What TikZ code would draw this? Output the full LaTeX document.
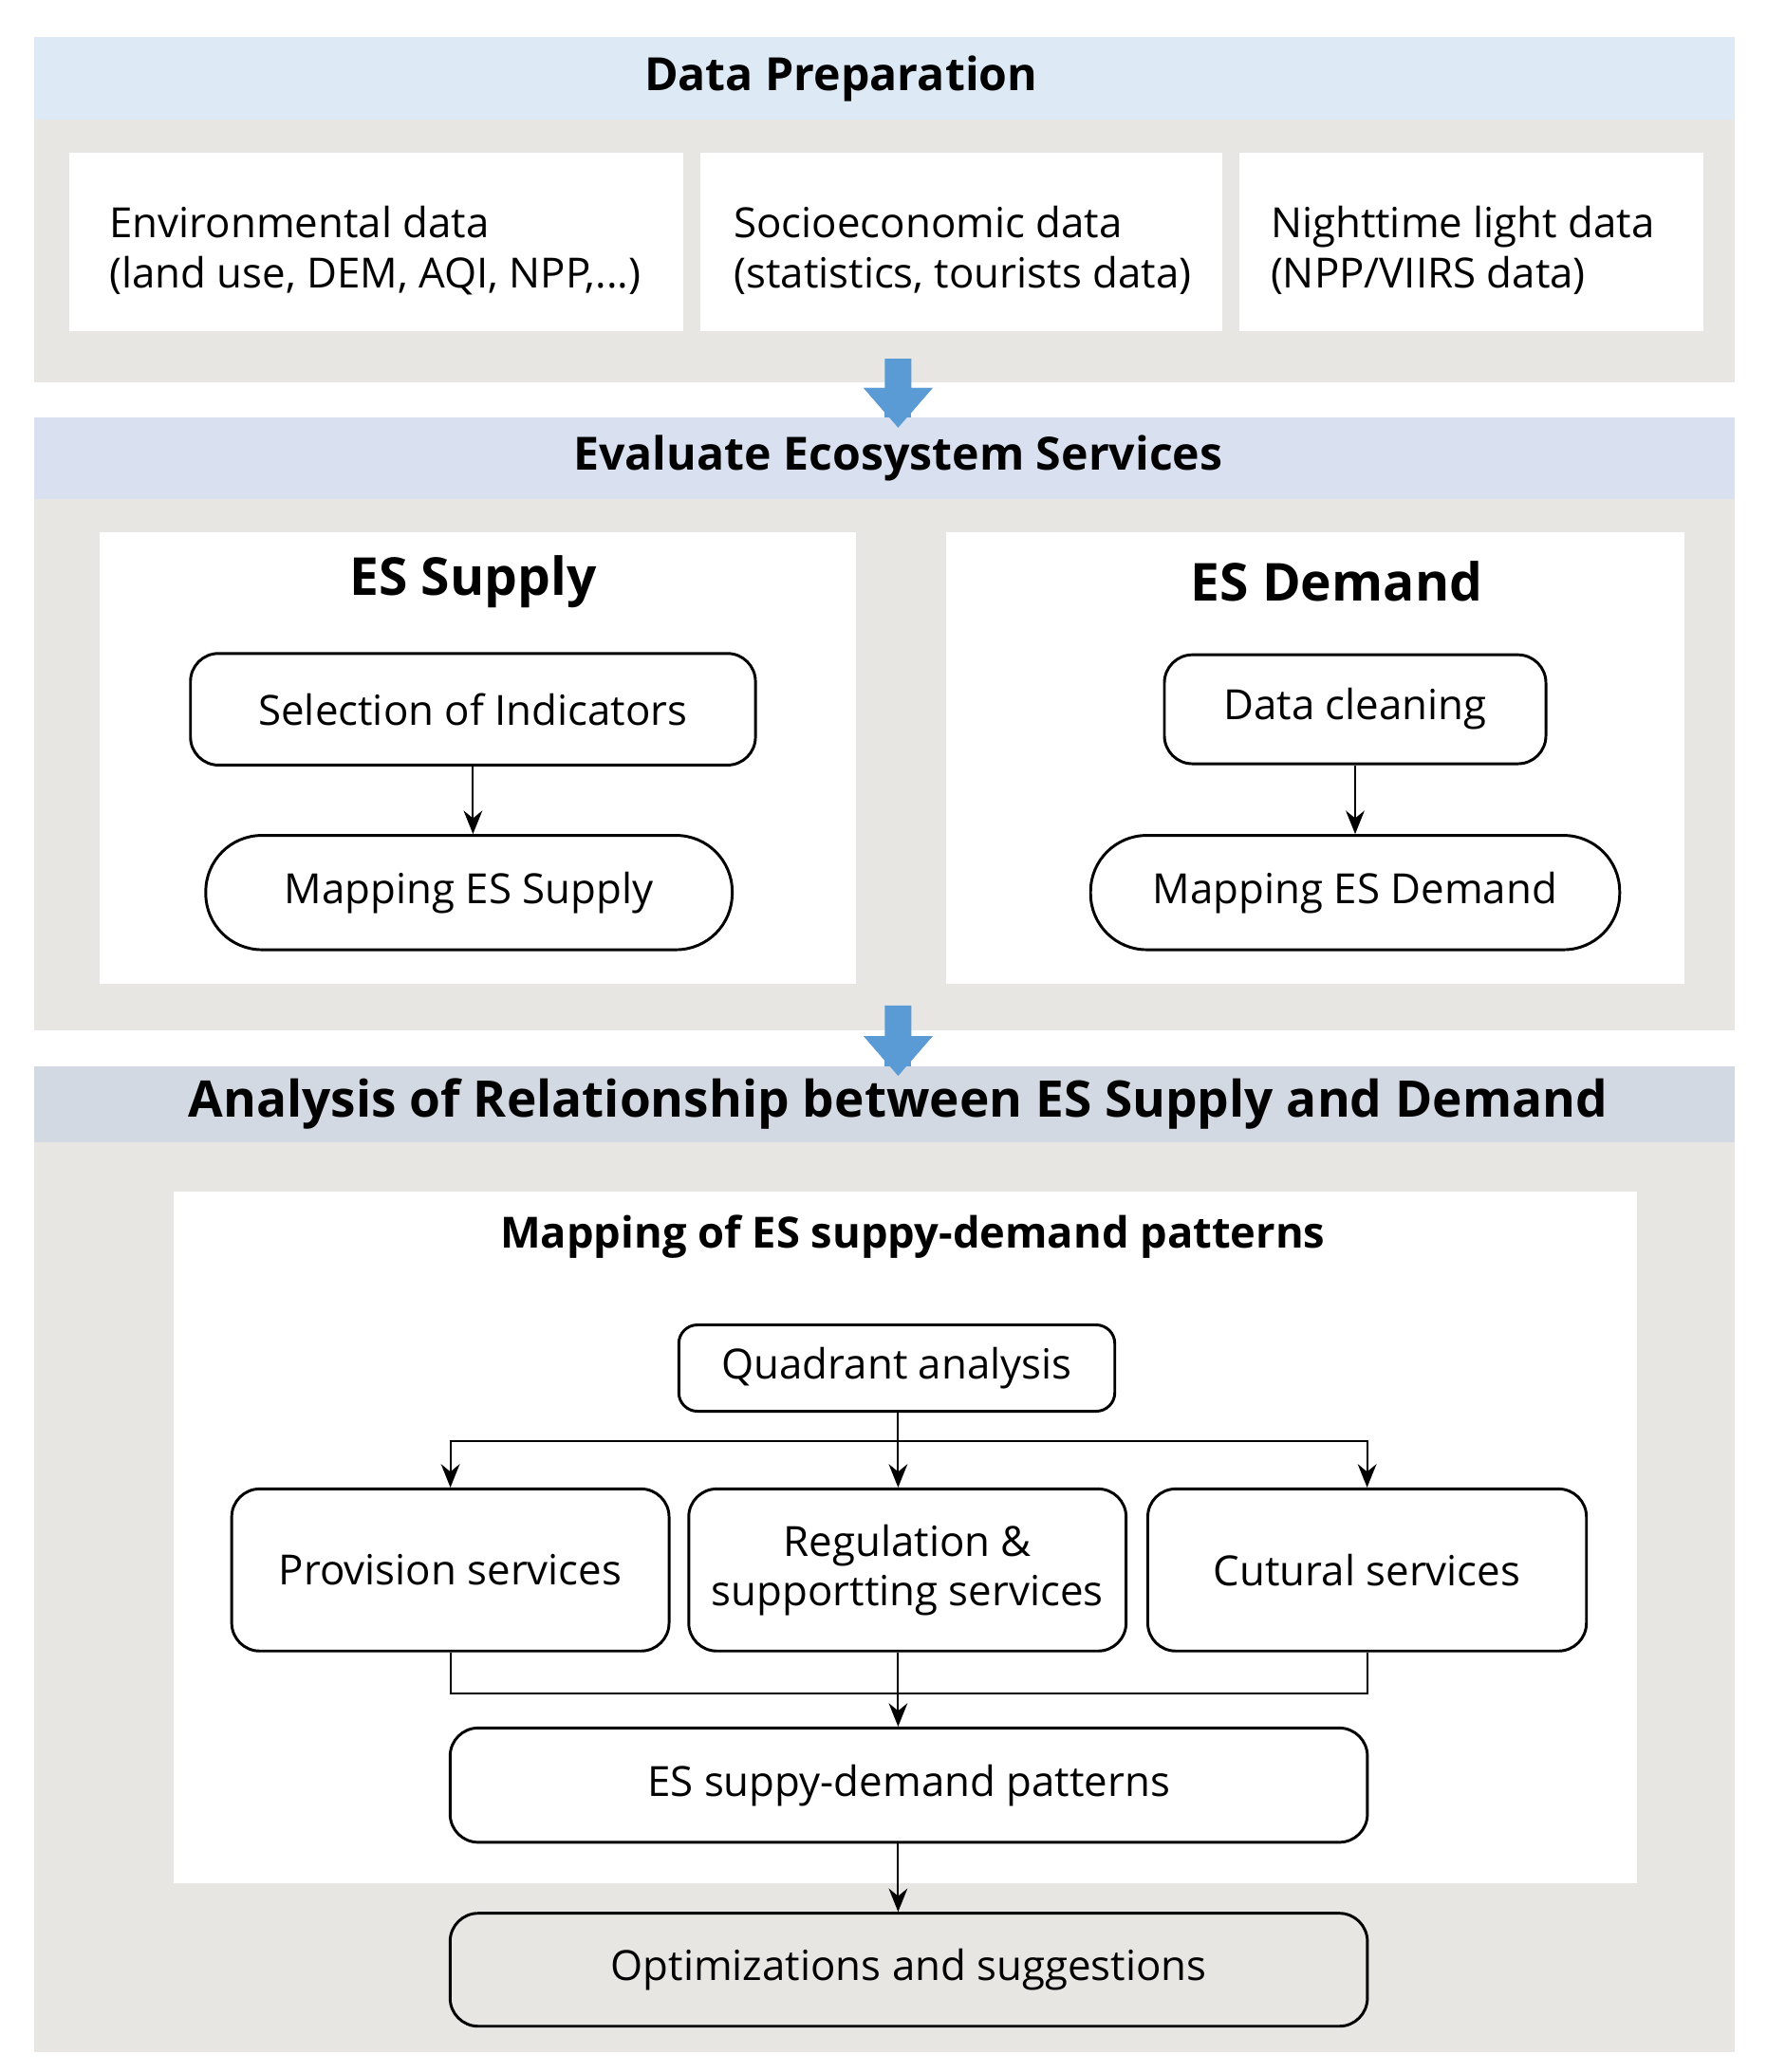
\documentclass[tikz,border=0pt]{standalone}
\usepackage{fontspec}
\setmainfont{Open Sans}
\usetikzlibrary{arrows.meta,positioning}
\definecolor{bandgrey}{HTML}{E8E6E3}
\definecolor{headA}{HTML}{DDEAF6}
\definecolor{headB}{HTML}{D9E0F0}
\definecolor{headC}{HTML}{D3D9E2}
\definecolor{arrowblue}{HTML}{5B9BD5}
\begin{document}
\begin{tikzpicture}[x=0.01cm,y=-0.01cm,>={Stealth[length=5pt,width=4pt]},
    head/.style={font=\bfseries\fontsize{9.8}{12}\selectfont},
    panel/.style={fill=white,draw=none},
    procbox/.style={draw,rounded corners=6pt,semithick,font=\fontsize{8.9}{10.6}\selectfont,inner sep=0pt},
    datatext/.style={font=\fontsize{8.9}{10.6}\selectfont,align=left,anchor=north west},
    bigarrow/.style={fill=arrowblue,draw=none}]
    \useasboundingbox (0,0) rectangle (1330,1560);
    \fill[white] (0,0) rectangle (1330,1560);

    % data preparation
    \fill[headA] (26,28) rectangle (1306,90);
    \fill[bandgrey] (26,90) rectangle (1306,288);
    \node[head] (dp) at (633,59) {Data Preparation};
    \fill[panel] (52,115) rectangle (514,249);
    \fill[panel] (527,115) rectangle (920,249);
    \fill[panel] (933,115) rectangle (1282,249);
    \node[datatext] (env) at (70,143) {Environmental data\\(land use, DEM, AQI, NPP,...)};
    \node[datatext] (soc) at (540,143) {Socioeconomic data\\(statistics, tourists data)};
    \node[datatext] (ntl) at (944,143) {Nighttime light data\\(NPP/VIIRS data)};
    \fill[bigarrow] (666,270) -- (686,270) -- (686,292) -- (702,292) -- (676,322) -- (650,292) -- (666,292) -- cycle;

    % evaluate ecosystem services
    \fill[headB] (26,314) rectangle (1306,376);
    \fill[bandgrey] (26,376) rectangle (1306,776);
    \fill[bigarrow] (666,292) -- (686,292) -- (686,314) -- (666,314) -- cycle;
    \fill[bigarrow] (650,292) -- (702,292) -- (676,322) -- cycle;
    \node[head] (ees) at (676,345) {Evaluate Ecosystem Services};
    \fill[panel] (75,401) rectangle (644,741);
    \fill[panel] (712,401) rectangle (1268,741);
    \node[head,font=\bfseries\fontsize{11.2}{13}\selectfont] (sup) at (356,438) {ES Supply};
    \node[head,font=\bfseries\fontsize{11.2}{13}\selectfont] (dem) at (1006,438) {ES Demand};
    \node[procbox,minimum width=4.25cm,minimum height=0.84cm] (sel) at (356,534) {Selection of Indicators};
    \node[procbox,minimum width=3.96cm,minimum height=0.86cm,rounded corners=12pt] (msup) at (353,672) {Mapping ES Supply};
    \node[procbox,minimum width=2.87cm,minimum height=0.82cm] (clean) at (1020,534) {Data cleaning};
    \node[procbox,minimum width=3.98cm,minimum height=0.86cm,rounded corners=12pt] (mdem) at (1020,672) {Mapping ES Demand};
    \draw[->] (sel) -- (sel |- msup.north);
    \draw[->] (clean) -- (clean |- mdem.north);
    \fill[bigarrow] (666,757) -- (686,757) -- (686,780) -- (702,780) -- (676,810) -- (650,780) -- (666,780) -- cycle;

    % analysis of relationship
    \fill[headC] (26,803) rectangle (1306,860);
    \fill[bandgrey] (26,860) rectangle (1306,1545);
    \fill[bigarrow] (666,780) -- (686,780) -- (686,803) -- (666,803) -- cycle;
    \fill[bigarrow] (650,780) -- (702,780) -- (676,810) -- cycle;
    \node[head,font=\bfseries\fontsize{10.8}{13}\selectfont] (ars) at (676,831) {Analysis of Relationship between ES Supply and Demand};
    \fill[panel] (131,897) rectangle (1232,1418);
    \node[head,font=\bfseries\fontsize{9.2}{11}\selectfont] (mp) at (687,931) {Mapping of ES suppy-demand patterns};
    \node[procbox,minimum width=3.28cm,minimum height=0.65cm,rounded corners=4pt] (quad) at (675,1030) {Quadrant analysis};
    \node[procbox,minimum width=3.29cm,minimum height=1.22cm] (prov) at (339,1182) {Provision services};
    \node[procbox,minimum width=3.29cm,minimum height=1.22cm,align=center] (reg) at (683,1182) {Regulation \&\\supportting services};
    \node[procbox,minimum width=3.30cm,minimum height=1.22cm] (cult) at (1029,1182) {Cutural services};
    \node[procbox,minimum width=6.90cm,minimum height=0.86cm] (pat) at (684,1344) {ES suppy-demand patterns};
    \node[procbox,minimum width=6.90cm,minimum height=0.85cm,fill=bandgrey] (opt) at (684,1483) {Optimizations and suggestions};
    \coordinate (split) at (676,1085);
    \coordinate (join) at (676,1275);
    \draw (quad.south -| split) -- (split);
    \draw[->] (split) -| (prov.north);
    \draw[->] (split) -| (cult.north);
    \draw[->] (split) -- (split |- reg.north);
    \draw (prov.south) |- (join) -| (cult.south);
    \draw (reg.south -| join) -- (join);
    \draw[->] (join) -- (join |- pat.north);
    \draw[->] (pat.south -| join) -- (join |- opt.north);
\end{tikzpicture}
\end{document}
